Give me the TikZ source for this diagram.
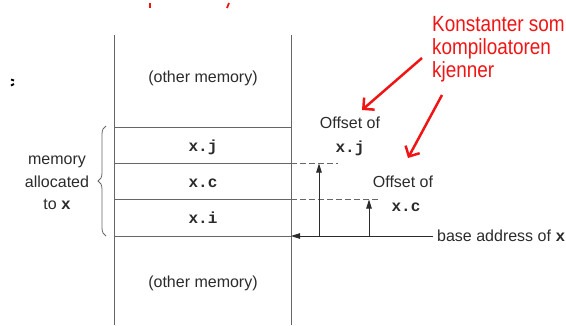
\documentclass[tikz,border=0pt]{standalone}
\usepackage{fontspec}
\setmainfont{Liberation Sans}
\setmonofont{Liberation Mono}
\newfontfamily\redfont[FakeStretch=0.86]{Liberation Sans}
\usetikzlibrary{arrows.meta,decorations.pathreplacing}
\definecolor{ink}{HTML}{2B2B2B}
\definecolor{boxline}{HTML}{666666}
\definecolor{annot}{HTML}{F01414}
\begin{document}
\begin{tikzpicture}[x=1pt,y=-1pt,
  lbl/.style={font=\fontsize{16}{19}\selectfont, text=ink, inner sep=0pt},
  fld/.style={font=\fontsize{16}{19}\selectfont\ttfamily\bfseries, text=ink, inner sep=0pt},
  annottext/.style={font=\redfont\fontsize{22}{24}\selectfont, text=annot, inner sep=0pt, anchor=base west},
  memline/.style={draw=boxline, line width=0.8pt},
  offarrow/.style={draw=ink, line width=0.8pt, -{Triangle[length=9pt,width=5.5pt]}},
  guide/.style={draw=boxline, line width=0.8pt, dash pattern=on 6pt off 3pt},
  annarrow/.style={draw=annot, line width=2.5pt, -{Straight Barb[length=8pt,width=16pt]}},
  scrap/.style={line width=1.8pt}
]
\useasboundingbox (0,0) rectangle (566,325);
% memory column
\coordinate (lt) at (114,35); \coordinate (lb) at (114,325);
\coordinate (rt) at (291,35); \coordinate (rb) at (291,325);
\coordinate (l1) at (114,127); \coordinate (r1) at (291,127);
\coordinate (l2) at (114,163.5); \coordinate (r2) at (291,163.5);
\coordinate (l3) at (114,199.5); \coordinate (r3) at (291,199.5);
\coordinate (l4) at (114,236); \coordinate (r4) at (291,236);
\draw[memline] (lt) -- (lb);
\draw[memline] (rt) -- (rb);
\draw[memline] (l1) -- (r1);
\draw[memline] (l2) -- (r2);
\draw[memline] (l3) -- (r3);
\draw[memline] (l4) -- (r4);
% field labels
\node[lbl] (om1) at (203,78) {(other memory)};
\node[fld] (fj) at (203,147) {x.j};
\node[fld] (fc) at (203,183) {x.c};
\node[fld] (fi) at (203,218) {x.i};
\node[lbl] (om2) at (203,283) {(other memory)};
% brace and label
\coordinate (bb) at (106,236); \coordinate (bt) at (106,126);
\draw[boxline, line width=0.8pt, decorate, decoration={brace,amplitude=8pt}] (bb) -- (bt);
\node[lbl, align=center, font=\fontsize{16}{22.5}\selectfont] (mem) at (57,183) {memory\\allocated\\to \texttt{\textbf{x}}};
% offsets
\coordinate (dj) at (338,163.5);
\coordinate (dc) at (378,199.5);
\draw[guide] (r2) -- (dj);
\draw[guide] (r3) -- (dc);
\coordinate (aj0) at (319,236); \coordinate (aj1) at (319,163.5);
\coordinate (ac0) at (369,236); \coordinate (ac1) at (369,199.5);
\draw[offarrow] (aj0) -- (aj1);
\draw[offarrow] (ac0) -- (ac1);
\coordinate (bs) at (433,236);
\draw[offarrow] (bs) -- (r4);
\node[lbl] (oj) at (350,123) {Offset of};
\node[fld] (oxj) at (350,148) {x.j};
\node[lbl] (oc) at (403,182) {Offset of};
\node[fld] (oxc) at (406,207) {x.c};
\node[lbl, anchor=west] (ba) at (437,236) {base address of \texttt{\textbf{x}}};
% red annotation
\node[annottext] (k1) at (432,31) {Konstanter som};
\node[annottext] (k2) at (432,54) {kompiloatoren};
\node[annottext] (k3) at (432,77) {kjenner};
\coordinate (ra0) at (422,58); \coordinate (ra1) at (362,110);
\coordinate (rb0) at (442,95); \coordinate (rb1) at (408,158);
\draw[annarrow] (ra0) -- (ra1);
\draw[annarrow] (rb0) -- (rb1);
% scraps at the edges
\coordinate (s1a) at (150,3); \coordinate (s1b) at (150,8);
\coordinate (s2a) at (229,3); \coordinate (s2b) at (227,8);
\draw[scrap, annot] (s1a) -- (s1b);
\draw[scrap, annot] (s2a) -- (s2b);
\coordinate (s3a) at (11,79.5); \coordinate (s3b) at (14,80.5);
\coordinate (s4a) at (11,85.5); \coordinate (s4b) at (14,84);
\draw[scrap, black] (s3a) -- (s3b);
\draw[scrap, black] (s4a) -- (s4b);
\end{tikzpicture}
\end{document}
